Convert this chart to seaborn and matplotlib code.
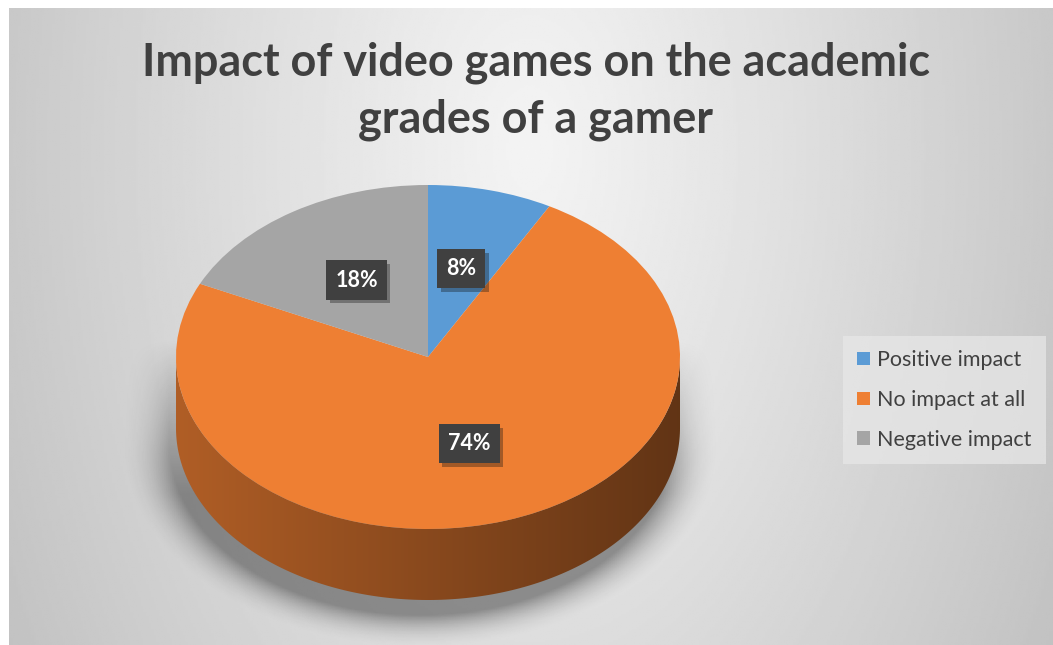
import numpy as np
import matplotlib
matplotlib.use("Agg")
import matplotlib.pyplot as plt
import seaborn as sns
from matplotlib.patches import Patch, Polygon
from matplotlib import patheffects as pe
from matplotlib.colors import to_rgb

# Survey results
categories = ["Positive impact", "No impact at all", "Negative impact"]
shares = [8, 74, 18]
colors = ["#5b9bd5", "#ee7f33", "#a5a5a5"]
title = "Impact of video games on the academic\ngrades of a gamer"

sns.set_theme(style="white")
plt.rcParams["font.family"] = ["Lato", "DejaVu Sans"]

W, H = 1053, 645
fig = plt.figure(figsize=(W / 100, H / 100), dpi=100, facecolor="white")

# Chart-area background: soft radial gradient
bg = fig.add_axes([9 / W, 0, 1 - 9 / W, (H - 8) / H])
bg.set_axis_off()
xx, yy = np.meshgrid(np.linspace(9, W, 400), np.linspace(8, H, 300))
rr = np.sqrt(((xx - 530) / 530) ** 2 + ((yy - 150) / 900) ** 2)
shade = np.clip(0.955 - 0.17 * rr ** 1.1, 0, 1)
bg.imshow(shade, cmap="gray", vmin=0, vmax=1, extent=[0, 1, 0, 1],
          aspect="auto", origin="upper")
bg.set_xlim(0, 1)
bg.set_ylim(0, 1)

# Pie axes: top face is an ellipse, with a visible side wall below it
cx, cy, rx, ry, depth = 428, 357, 252, 172, 71
d = depth / ry
ax = fig.add_axes([(cx - rx) / W, (H - cy - ry - depth) / H,
                   2 * rx / W, (2 * ry + depth) / H])

wedges, _, autotexts = ax.pie(
    shares, colors=colors, startangle=90, counterclock=False, radius=1,
    wedgeprops=dict(linewidth=0, zorder=2), autopct=lambda p: f"{p:.0f}%",
    pctdistance=0.53, frame=False)

ax.set_aspect("auto")
ax.set_axis_off()

# Side wall of the front half, shaded darker towards the right
gx = np.linspace(-1, 1, 400)
for w, c in zip(wedges, colors):
    base = np.array(to_rgb(c))
    for k in (-360, 0, 360):
        a1 = max(w.theta1 + k, -180)
        a2 = min(w.theta2 + k, 0)
        if a2 <= a1:
            continue
        t = np.radians(np.linspace(a1, a2, 200))
        top = np.column_stack([np.cos(t), np.sin(t)])
        bottom = np.column_stack([np.cos(t[::-1]), np.sin(t[::-1]) - d])
        wall = Polygon(np.vstack([top, bottom]), closed=True,
                       facecolor="none", edgecolor="none")
        ax.add_patch(wall)
        fac = 0.74 - 0.33 * (gx + 1) / 2
        grad = np.clip(base[None, None, :] * fac[None, :, None], 0, 1)
        grad = np.repeat(grad, 4, axis=0)
        im = ax.imshow(grad, extent=[-1, 1, -1 - d, 0], origin="lower",
                       aspect="auto", zorder=1, interpolation="bilinear")
        im.set_clip_path(wall)

# Soft drop shadow under the pie
sx, sy = np.meshgrid(np.linspace(-1.25, 1.25, 320), np.linspace(-2.0, 0.6, 320))
px, py = sx + 0.03, sy + 0.09
s_near = np.clip(-py, 0, d)
dist = np.sqrt(px ** 2 + (py + s_near) ** 2) - 1
alpha = 0.38 * np.clip(1 - np.clip(dist, 0, None) / 0.2, 0, 1) ** 2
alpha *= np.clip((0.1 - sy) / 0.9, 0, 1)
rgba = np.zeros(sx.shape + (4,))
rgba[..., 3] = alpha
ax.imshow(rgba, extent=[-1.25, 1.25, -2.0, 0.6], origin="lower",
          aspect="auto", zorder=0.5, clip_on=False)
ax.set_xlim(-1, 1)
ax.set_ylim(-1 - d, 1)

# Percentage labels in dark boxes
for t in autotexts:
    t.set_color("white")
    t.set_fontsize(15.5)
    t.set_fontweight("bold")
    t.set_zorder(5)
    t.set_bbox(dict(boxstyle="square,pad=0.42", facecolor="#404040",
                    edgecolor="none"))
    t.get_bbox_patch().set_path_effects(
        [pe.SimplePatchShadow(offset=(2.5, -2.5), alpha=0.35), pe.Normal()])

fig.text(536 / W, (H - 91) / H, title, ha="center", va="center",
         fontsize=32.4, fontweight="bold", color="#404040", linespacing=1.42)

handles = [Patch(facecolor=c, edgecolor="none", label=l)
           for c, l in zip(colors, categories)]
leg = fig.legend(handles=handles, loc="center left",
                 bbox_to_anchor=(843 / W, (H - 400) / H), frameon=True,
                 facecolor="#e8e8e8", edgecolor="none", framealpha=0.7,
                 fancybox=False, fontsize=15.5, handlelength=0.6,
                 handleheight=0.6, handletextpad=0.35, labelspacing=0.92,
                 borderpad=0.65, borderaxespad=0, labelcolor="#404040")

fig.savefig("out.png", dpi=100, facecolor="white")
